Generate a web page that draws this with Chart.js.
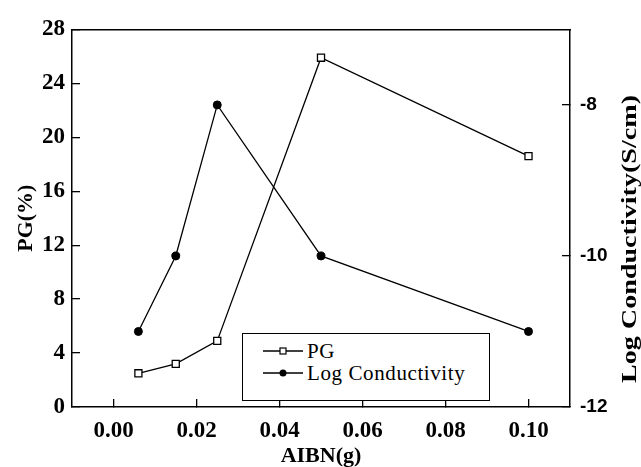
<!DOCTYPE html>
<html>
<head>
<meta charset="utf-8">
<script src="https://cdn.jsdelivr.net/npm/chart.js@4/dist/chart.umd.min.js"></script>
<style>
    html, body { margin: 0; padding: 0; background: #fff; }
    .wrap { position: relative; width: 641px; height: 467px; }
    #chart { display: block; }
    .legend-box {
        position: absolute; left: 242px; top: 333px; width: 246px; height: 66px;
        border: 1.2px solid #000; background: #fff;
        font-family: 'Liberation Serif', 'Times New Roman', serif; font-size: 21px; letter-spacing: 0.6px; color: #000;
    }
    .legend-item { position: absolute; left: 20px; display: flex; align-items: center; height: 22px; }
    .legend-item svg { margin-right: 4px; }
</style>
</head>
<body>
<div class="wrap">
    <canvas id="chart" width="641" height="467"></canvas>
    <div class="legend-box" id="legend"></div>
</div>
<script>
const aibn = [0.006, 0.015, 0.025, 0.05, 0.1];
const pgValues = [2.5, 3.2, 4.9, 25.9, 18.6];
const logCondValues = [-11, -10, -8, -10, -11];

const xTicks = [0, 0.02, 0.04, 0.06, 0.08, 0.1];
const pgTicks = [0, 4, 8, 12, 16, 20, 24, 28];
const condTicks = [-12, -10, -8];

const serifBold = (size) => ({ family: "'Liberation Serif', 'Times New Roman', serif", size: size, weight: 'bold' });

function fixTicks(list) {
    return (scale) => { scale.ticks = list.map((v) => ({ value: v })); };
}

// right axis title reads bottom-to-top, chart.js would rotate it the other way
const rightTitle = {
    id: 'rightTitle',
    afterDraw(chart) {
        const ctx = chart.ctx;
        const text = 'Log Conductivity(S/cm)';
        ctx.save();
        ctx.font = "bold 22px 'Liberation Serif', serif";
        const w = ctx.measureText(text).width;
        ctx.translate(630, 239);
        ctx.rotate(-Math.PI / 2);
        ctx.scale(288 / w, 1);
        ctx.fillStyle = '#000';
        ctx.textAlign = 'center';
        ctx.textBaseline = 'middle';
        ctx.fillText(text, 0, 0);
        ctx.restore();
    }
};

const ctx = document.getElementById('chart').getContext('2d');
new Chart(ctx, {
    type: 'line',
    data: {
        datasets: [
            {
                label: 'PG',
                data: aibn.map((x, i) => ({ x: x, y: pgValues[i] })),
                yAxisID: 'y',
                borderColor: '#000', borderWidth: 1.3, tension: 0,
                pointStyle: 'rect', pointRadius: 5, pointBackgroundColor: '#fff',
                pointBorderColor: '#000', pointBorderWidth: 1.3
            },
            {
                label: 'Log Conductivity',
                data: aibn.map((x, i) => ({ x: x, y: logCondValues[i] })),
                yAxisID: 'y1',
                borderColor: '#000', borderWidth: 1.3, tension: 0,
                pointStyle: 'circle', pointRadius: 4, pointBackgroundColor: '#000',
                pointBorderColor: '#000', pointBorderWidth: 1
            }
        ]
    },
    options: {
        responsive: false,
        animation: false,
        layout: { padding: { top: 24, left: 0, right: 0, bottom: 0 } },
        plugins: { legend: { display: false }, tooltip: { enabled: false } },
        scales: {
            x: {
                type: 'linear', position: 'bottom', min: -0.01, max: 0.11,
                afterBuildTicks: fixTicks(xTicks),
                afterFit: (s) => { s.height = 60; },
                grid: { drawOnChartArea: false, tickLength: -8, color: '#000', lineWidth: 1.3 },
                border: { color: '#000', width: 1.5 },
                ticks: { color: '#000', font: serifBold(23), padding: 18, maxRotation: 0,
                    callback: (v) => Number(v).toFixed(2) },
                title: { display: true, text: 'AIBN(g)', color: '#000', font: { ...serifBold(22), lineHeight: 1 },
                    padding: { top: 0, bottom: 0 } }
            },
            xTop: {
                type: 'linear', position: 'top', min: -0.01, max: 0.11,
                afterFit: (s) => { s.height = 0; },
                grid: { display: false },
                ticks: { display: false },
                border: { color: '#000', width: 1.5 }
            },
            y: {
                type: 'linear', position: 'left', min: 0, max: 28,
                afterBuildTicks: fixTicks(pgTicks),
                afterFit: (s) => { s.width = 72; },
                grid: { drawOnChartArea: false, tickLength: -8, color: '#000', lineWidth: 1.3 },
                border: { color: '#000', width: 1.5 },
                ticks: { color: '#000', font: serifBold(23), padding: 15 },
                title: { display: true, text: 'PG(%)', color: '#000', font: { ...serifBold(22), lineHeight: 1 },
                    padding: { top: 15, bottom: 0 } }
            },
            y1: {
                type: 'linear', position: 'right', min: -12, max: -7,
                afterBuildTicks: fixTicks(condTicks),
                afterFit: (s) => { s.width = 71; },
                grid: { drawOnChartArea: false, tickLength: -8, color: '#000', lineWidth: 1.3 },
                border: { color: '#000', width: 1.5 },
                ticks: { color: '#000', font: { family: "'Liberation Sans', Arial, sans-serif", size: 19, weight: 'bold' }, padding: 18 }
            }
        }
    },
    plugins: [rightTitle]
});

const legendItems = [
    { label: 'PG', marker: '<rect x="17" y="3" width="6" height="6" fill="#fff" stroke="#000" stroke-width="1.2"/>' },
    { label: 'Log Conductivity', marker: '<circle cx="20" cy="6" r="3.5" fill="#000"/>' }
];
const legendEl = document.getElementById('legend');
legendItems.forEach((item, i) => {
    const row = document.createElement('div');
    row.className = 'legend-item';
    row.style.top = (6 + i * 22) + 'px';
    row.innerHTML = `<svg width="40" height="12"><line x1="0" y1="6" x2="40" y2="6" stroke="#000" stroke-width="1.3"/>${item.marker}</svg><span>${item.label}</span>`;
    legendEl.appendChild(row);
});
</script>
</body>
</html>
